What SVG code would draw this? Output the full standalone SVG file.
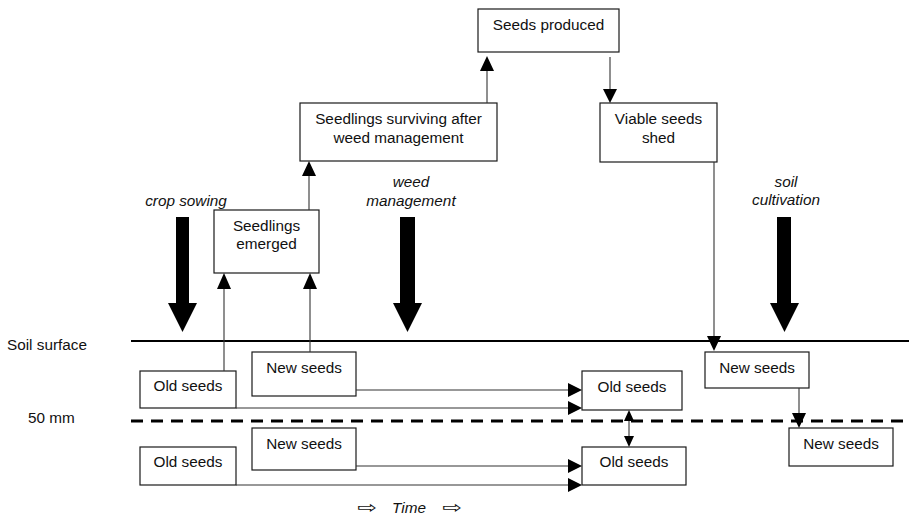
<svg xmlns="http://www.w3.org/2000/svg" width="909" height="516" viewBox="0 0 909 516">
  <style>
    .box { fill: #fff; stroke: #1a1a1a; stroke-width: 1.2; }
    .lbl { font-family: "Liberation Sans", Arial, sans-serif; font-size: 15.3px; fill: #111; text-anchor: middle; }
    .side { font-family: "Liberation Sans", Arial, sans-serif; font-size: 15.3px; fill: #111; }
    .it { font-family: "Liberation Sans", Arial, sans-serif; font-size: 15.3px; font-style: italic; fill: #111; text-anchor: middle; }
    .tarrow { font-family: "DejaVu Sans", sans-serif; font-size: 17px; fill: #111; }
    .ln { fill: none; stroke: #333; stroke-width: 1.1; }
    .head { fill: #000; }
    .big { fill: #000; }
  </style>

  <!-- soil horizons -->
  <g id="horizons">
    <line x1="131" y1="341" x2="909" y2="341" stroke="#000" stroke-width="2.2"/>
    <line x1="131" y1="421" x2="909" y2="421" stroke="#000" stroke-width="3" stroke-dasharray="12 8"/>
    <text class="side" x="7" y="349.5">Soil surface</text>
    <text class="side" x="28" y="422.5">50 mm</text>
  </g>

  <!-- management events -->
  <g id="crop-sowing">
    <text class="it" x="186" y="206">crop sowing</text>
    <rect class="big" x="176" y="217" width="13" height="87"/>
    <polygon class="big" points="168,303 197,303 182.5,332"/>
  </g>
  <g id="weed-management">
    <text class="it" x="411" y="187">weed</text>
    <text class="it" x="411" y="206">management</text>
    <rect class="big" x="400" y="217" width="15" height="87"/>
    <polygon class="big" points="393,303 422,303 407.5,332"/>
  </g>
  <g id="soil-cultivation">
    <text class="it" x="786" y="187">soil</text>
    <text class="it" x="786" y="205">cultivation</text>
    <rect class="big" x="777" y="217" width="14" height="87"/>
    <polygon class="big" points="770,303 799,303 784.5,332"/>
  </g>

  <!-- plant stages -->
  <g id="seeds-produced">
    <rect class="box" x="478" y="9" width="141" height="43"/>
    <text class="lbl" x="548.5" y="29.5">Seeds produced</text>
  </g>
  <g id="seedlings-surviving">
    <rect class="box" x="300" y="103" width="197" height="58"/>
    <text class="lbl" x="398.5" y="123.5">Seedlings surviving after</text>
    <text class="lbl" x="398.5" y="142.5">weed management</text>
  </g>
  <g id="viable-seeds-shed">
    <rect class="box" x="600" y="103" width="117" height="59"/>
    <text class="lbl" x="658.5" y="123.5">Viable seeds</text>
    <text class="lbl" x="658.5" y="142.5">shed</text>
  </g>
  <g id="seedlings-emerged">
    <rect class="box" x="214" y="210" width="105" height="63"/>
    <text class="lbl" x="266.5" y="230.5">Seedlings</text>
    <text class="lbl" x="266.5" y="248.5">emerged</text>
  </g>

  <!-- seed bank, left -->
  <g id="old-seeds-top-left">
    <rect class="box" x="140" y="371" width="96" height="37"/>
    <text class="lbl" x="188" y="390.5">Old seeds</text>
  </g>
  <g id="new-seeds-top-left">
    <rect class="box" x="252" y="352" width="104" height="44"/>
    <text class="lbl" x="304" y="372.5">New seeds</text>
  </g>
  <g id="old-seeds-deep-left">
    <rect class="box" x="140" y="447" width="96" height="38"/>
    <text class="lbl" x="188" y="466.5">Old seeds</text>
  </g>
  <g id="new-seeds-deep-left">
    <rect class="box" x="252" y="428" width="104" height="42"/>
    <text class="lbl" x="304" y="448.5">New seeds</text>
  </g>

  <!-- seed bank, middle -->
  <g id="old-seeds-top-mid">
    <rect class="box" x="582" y="371" width="100" height="39"/>
    <text class="lbl" x="632" y="391.5">Old seeds</text>
  </g>
  <g id="old-seeds-deep-mid">
    <rect class="box" x="582" y="447" width="104" height="38"/>
    <text class="lbl" x="634" y="466.5">Old seeds</text>
  </g>

  <!-- seed bank, right -->
  <g id="new-seeds-top-right">
    <rect class="box" x="705" y="352" width="104" height="36"/>
    <text class="lbl" x="757" y="372.5">New seeds</text>
  </g>
  <g id="new-seeds-deep-right">
    <rect class="box" x="789" y="428" width="104" height="38"/>
    <text class="lbl" x="841" y="448.5">New seeds</text>
  </g>

  <!-- connectors -->
  <g id="connectors">
    <!-- emergence -->
    <line class="ln" x1="224" y1="371" x2="224" y2="288"/>
    <polygon class="head" points="224,273 217,289 231,289"/>
    <line class="ln" x1="310" y1="352" x2="310" y2="288"/>
    <polygon class="head" points="310,273 303,289 317,289"/>
    <!-- survival -->
    <line class="ln" x1="309" y1="210" x2="309" y2="175"/>
    <polygon class="head" points="309,161 302,176 316,176"/>
    <!-- seed production -->
    <line class="ln" x1="487" y1="103" x2="487" y2="70"/>
    <polygon class="head" points="487,56 480,71 494,71"/>
    <line class="ln" x1="610" y1="57" x2="610" y2="89"/>
    <polygon class="head" points="610,103 603,89 617,89"/>
    <!-- seed shed to surface -->
    <line class="ln" x1="714" y1="162" x2="714" y2="336"/>
    <polygon class="head" points="714,351 707,336 721,336"/>
    <!-- burial by cultivation -->
    <line class="ln" x1="799" y1="388" x2="799" y2="413"/>
    <polygon class="head" points="799,428 792,413 806,413"/>
    <!-- persistence through time -->
    <line class="ln" x1="356" y1="390" x2="568" y2="390"/>
    <polygon class="head" points="582,390 568,383 568,397"/>
    <line class="ln" x1="236" y1="408" x2="568" y2="408"/>
    <polygon class="head" points="582,408 568,401 568,415"/>
    <line class="ln" x1="356" y1="466" x2="568" y2="466"/>
    <polygon class="head" points="582,466 568,459 568,473"/>
    <line class="ln" x1="236" y1="485" x2="568" y2="485"/>
    <polygon class="head" points="582,485 568,478 568,492"/>
    <!-- exchange between layers -->
    <line class="ln" x1="629" y1="420" x2="629" y2="437"/>
    <polygon class="head" points="629,410 624,421 634,421"/>
    <polygon class="head" points="629,447 624,436 634,436"/>
  </g>

  <!-- time axis -->
  <g id="time-axis">
    <text class="it" x="409" y="513">Time</text>
    <text class="tarrow" x="357" y="513" textLength="20" lengthAdjust="spacingAndGlyphs">⇨</text>
    <text class="tarrow" x="442" y="513" textLength="20" lengthAdjust="spacingAndGlyphs">⇨</text>
  </g>
</svg>
